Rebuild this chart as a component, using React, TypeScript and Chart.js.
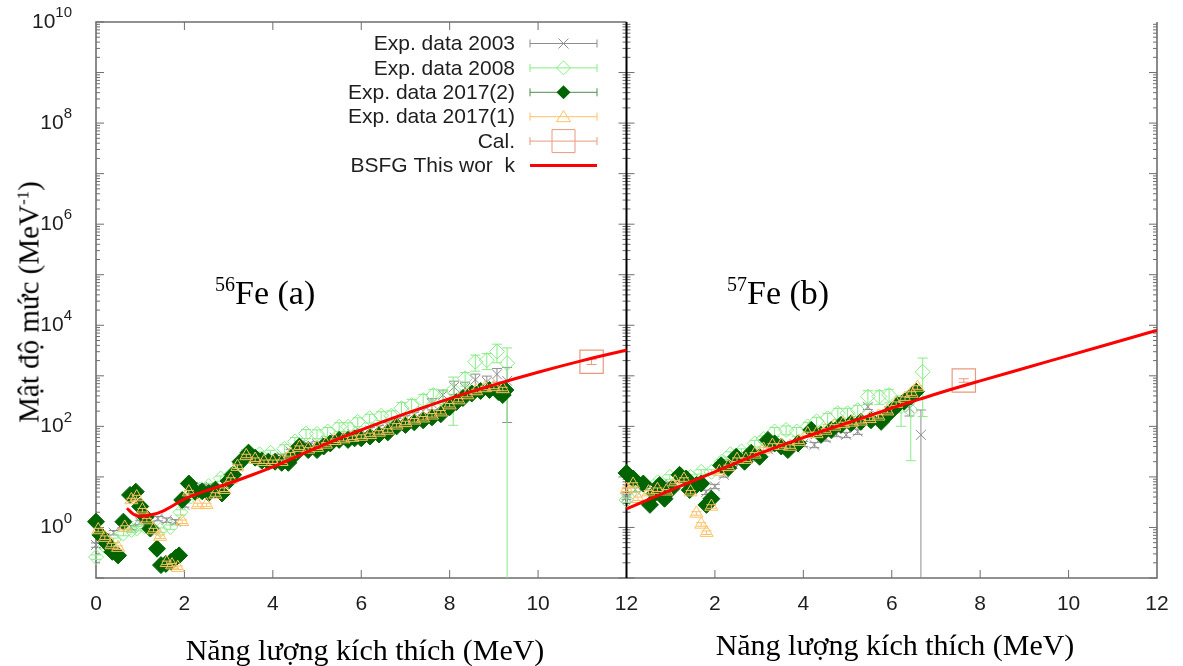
import React, { useEffect, useRef } from "react";
import { Chart, registerables } from "chart.js";

Chart.register(...registerables);

// ================= Panel (a): 56Fe =================
const fe56Exp2003E = [0.0, 0.2, 0.4, 0.6, 0.8, 1.0, 1.2, 1.4, 1.6, 1.8, 2.0, 2.2, 2.4, 2.6, 2.8, 3.0, 3.2, 3.4, 3.6, 3.8, 4.0, 4.2, 4.4, 4.6, 4.8, 5.0, 5.2, 5.4, 5.6, 5.8, 6.0, 6.2, 6.4, 6.6, 6.8, 7.0, 7.2, 7.4, 7.6, 7.85, 8.1, 8.35, 8.58, 8.84, 9.07, 9.3];
const fe56Exp2003Rho = [0.45, 0.63, 0.79, 1.1, 1.0, 1.26, 1.4, 1.5, 1.4, 1.3, 2.8, 5.6, 6.3, 6.3, 6.3, 8.9, 16, 28, 25, 24, 24, 25, 32, 42, 42, 45, 52, 60, 66, 71, 76, 83, 91, 105, 126, 141, 166, 200, 282, 417, 603, 575, 832, 759, 1070, 794];
const fe56Exp2003Err = [0.1, 0.1, 0.1, 0.1, 0.1, 0.1, 0.1, 0.1, 0.1, 0.1, 0.1, 0.1, 0.1, 0.1, 0.1, 0.1, 0.1, 0.1, 0.1, 0.1, 0.1, 0.1, 0.1, 0.1, 0.1, 0.1, 0.1, 0.1, 0.1, 0.1, 0.15, 0.15, 0.15, 0.15, 0.15, 0.15, 0.15, 0.15, 0.25, 0.25, 0.3, 0.3, 0.3, 0.3, 0.3, 0.85];

const fe56Exp2008E = [0.0, 0.2, 0.4, 0.62, 0.8, 0.92, 1.1, 1.25, 1.45, 1.68, 1.91, 2.14, 2.35, 2.55, 2.82, 3.05, 3.25, 3.45, 3.7, 3.95, 4.26, 4.5, 4.75, 5.0, 5.24, 5.5, 5.7, 5.92, 6.19, 6.45, 6.68, 6.91, 7.14, 7.4, 7.63, 7.86, 8.08, 8.35, 8.58, 8.84, 9.07, 9.3];
const fe56Exp2008Rho = [0.26, 0.42, 0.56, 0.76, 0.89, 0.95, 1.05, 1.0, 0.89, 1.02, 2.0, 4.1, 5.6, 6.6, 9.3, 11, 18, 32, 28, 30, 36, 50, 72, 71, 79, 98, 98, 123, 145, 162, 162, 229, 263, 331, 417, 389, 525, 891, 1900, 2040, 3020, 1780];
const fe56Exp2008Err = [0.1, 0.1, 0.1, 0.1, 0.1, 0.1, 0.1, 0.1, 0.1, 0.1, 0.12, 0.12, 0.12, 0.12, 0.12, 0.12, 0.12, 0.12, 0.12, 0.12, 0.2, 0.2, 0.2, 0.2, 0.2, 0.2, 0.2, 0.2, 0.2, 0.2, 0.25, 0.3, 0.3, 0.3, 0.3, 0.3, 0.8, 0.3, 0.35, 0.35, 0.4, 1.0];

const fe56Exp2017bE = [0.0, 0.1, 0.25, 0.37, 0.5, 0.62, 0.77, 0.9, 1.0, 1.12, 1.23, 1.38, 1.47, 1.58, 1.7, 1.8, 1.88, 1.95, 2.1, 2.25, 2.4, 2.55, 2.7, 2.85, 3.0, 3.1, 3.27, 3.45, 3.6, 3.75, 3.9, 4.05, 4.2, 4.35, 4.5, 4.6, 4.8, 5.0, 5.15, 5.3, 5.5, 5.7, 5.85, 6.0, 6.2, 6.4, 6.6, 6.8, 7.0, 7.2, 7.4, 7.6, 7.8, 8.0, 8.15, 8.3, 8.5, 8.7, 8.9, 9.1, 9.2, 9.26];
const fe56Exp2017bRho = [1.3, 0.71, 0.48, 0.33, 0.28, 1.3, 4.4, 5.1, 2.6, 1.6, 0.95, 0.38, 0.18, 0.19, 0.21, 0.25, 0.28, 3.5, 7.4, 5.0, 5.2, 4.8, 5.6, 4.7, 8.3, 11, 20, 30, 24, 21, 20, 20, 19, 19, 28, 40, 34, 34, 40, 46, 54, 54, 58, 58, 63, 69, 76, 100, 107, 120, 132, 151, 174, 240, 302, 363, 447, 501, 525, 479, 417, 525];
const fe56Exp2017bErr = 0.08;

const fe56Exp2017aE = [0.05, 0.2, 0.35, 0.5, 0.65, 0.8, 0.92, 1.05, 1.15, 1.3, 1.45, 1.6, 1.72, 1.85, 1.95, 2.1, 2.3, 2.5, 2.7, 2.9, 3.05, 3.2, 3.4, 3.6, 3.8, 4.0, 4.2, 4.4, 4.6, 4.8, 5.0, 5.2, 5.4, 5.6, 5.8, 6.0, 6.2, 6.4, 6.6, 6.8, 7.0, 7.2, 7.4, 7.6, 7.8, 8.0, 8.2, 8.4, 8.6, 8.8, 9.0, 9.2];
const fe56Exp2017aRho = [0.89, 0.63, 0.45, 0.4, 1.0, 3.5, 4.0, 2.2, 1.4, 0.89, 0.66, 0.2, 0.18, 0.16, 1.3, 5.0, 2.8, 2.8, 4.5, 5.6, 8.9, 16, 26, 22, 20, 20, 20, 28, 38, 35, 38, 44, 52, 56, 60, 63, 68, 76, 83, 105, 117, 132, 145, 166, 191, 263, 331, 417, 501, 575, 603, 550];
const fe56Exp2017aErr = 0.08;

const fe56CalE = [11.21];
const fe56CalRho = [1900];
const fe56CalErr = [0.12];

const fe56BsfgE = [0.7, 0.85, 1.0, 1.25, 1.5, 2.0, 2.5, 3.0, 3.5, 4.0, 5.0, 6.0, 7.0, 8.0, 9.0, 10.0, 11.0, 12.0];
const fe56BsfgRho = [2.4, 1.82, 1.66, 1.78, 2.09, 3.63, 5.37, 7.41, 10.7, 15.8, 38, 85, 178, 355, 661, 1175, 1995, 3236];

// ================= Panel (b): 57Fe =================
const fe57Exp2003E = [0.0, 0.2, 0.4, 0.6, 0.8, 1.0, 1.2, 1.4, 1.6, 1.8, 2.0, 2.2, 2.4, 2.6, 2.8, 3.0, 3.2, 3.4, 3.6, 3.8, 4.0, 4.25, 4.51, 4.75, 4.97, 5.23, 5.46, 5.7, 5.95, 6.2, 6.4, 6.66];
const fe57Exp2003Rho = [4.0, 5.6, 6.3, 5.6, 7.1, 7.1, 8.9, 7.1, 6.6, 5.0, 6.5, 11, 18, 20, 25, 28, 35, 42, 35, 38, 45, 43, 58, 71, 68, 79, 245, 158, 200, 282, 229, 68];
const fe57Exp2003Err = [0.1, 0.1, 0.1, 0.1, 0.1, 0.1, 0.1, 0.1, 0.1, 0.1, 0.1, 0.1, 0.1, 0.1, 0.1, 0.1, 0.1, 0.1, 0.1, 0.1, 0.12, 0.12, 0.12, 0.12, 0.12, 0.12, 0.12, 0.12, 0.2, 0.2, 0.3, 2.1];

const fe57Exp2008E = [0.0, 0.2, 0.45, 0.71, 0.98, 1.2, 1.45, 1.69, 1.92, 2.15, 2.35, 2.6, 2.9, 3.1, 3.35, 3.61, 3.85, 4.1, 4.3, 4.55, 4.78, 5.0, 5.23, 5.46, 5.72, 5.94, 6.21, 6.43, 6.7];
const fe57Exp2008Rho = [3.5, 5.6, 6.3, 7.9, 10, 11, 10, 12.6, 12.6, 20, 28, 32, 46, 56, 79, 85, 79, 100, 126, 145, 182, 182, 209, 389, 389, 417, 251, 209, 1200];
const fe57Exp2008Err = [0.1, 0.1, 0.1, 0.1, 0.1, 0.1, 0.1, 0.1, 0.1, 0.1, 0.12, 0.12, 0.15, 0.15, 0.2, 0.2, 0.2, 0.2, 0.2, 0.25, 0.25, 0.25, 0.25, 0.3, 0.3, 0.3, 0.6, 0.9, 0.87];

const fe57Exp2017bE = [0.0, 0.15, 0.38, 0.53, 0.64, 0.75, 0.86, 1.02, 1.2, 1.35, 1.43, 1.58, 1.69, 1.81, 1.92, 2.14, 2.3, 2.48, 2.67, 2.82, 3.01, 3.2, 3.35, 3.5, 3.65, 3.88, 4.18, 4.4, 4.63, 4.85, 5.08, 5.3, 5.53, 5.76, 5.94, 6.13, 6.28, 6.43, 6.55];
const fe57Exp2017bRho = [12, 9.3, 7.4, 2.8, 4.7, 6.9, 3.7, 5.9, 11, 9.3, 5.5, 6.9, 7.4, 2.8, 3.7, 17, 15, 25, 20, 30, 25, 54, 46, 40, 34, 46, 85, 68, 85, 107, 115, 123, 132, 123, 182, 263, 309, 389, 490];
const fe57Exp2017bErr = 0.08;

const fe57Exp2017aE = [0.0, 0.15, 0.26, 0.5, 0.7, 0.9, 1.1, 1.3, 1.45, 1.58, 1.69, 1.81, 1.92, 2.1, 2.3, 2.5, 2.7, 2.9, 3.1, 3.3, 3.5, 3.7, 3.9, 4.1, 4.3, 4.5, 4.7, 4.9, 5.1, 5.3, 5.5, 5.7, 5.9, 6.1, 6.3, 6.45, 6.58];
const fe57Exp2017aRho = [5.6, 7.1, 3.7, 5.0, 5.6, 5.2, 7.9, 8.9, 5.0, 1.9, 1.15, 0.79, 2.6, 12.6, 15.8, 22, 22, 28, 35, 42, 42, 40, 50, 71, 71, 83, 100, 112, 120, 126, 141, 158, 200, 282, 355, 447, 589];
const fe57Exp2017aErr = 0.08;

const fe57CalE = [7.63];
const fe57CalRho = [810];
const fe57CalErr = [0.08];

const fe57BsfgE = [0, 1, 2, 3, 4, 5, 6, 7, 8, 9, 10, 11, 12];
const fe57BsfgRho = [2.34, 5.5, 12.6, 28.8, 60, 117, 229, 437, 794, 1413, 2512, 4467, 7943];

// ================= Axes / labels =================
const PANEL_WIDTH_MEV = 12; // panel (b) is drawn to the right of panel (a)
const X_TICK_STEP = 2;
const Y_MIN = 0.1;
const Y_MAX = 1e10;
const Y_LABEL_EXPONENTS = [0, 2, 4, 6, 8, 10];
const LEGEND_LABELS = ["Exp. data 2003", "Exp. data 2008", "Exp. data 2017(2)", "Exp. data 2017(1)", "Cal.", "BSFG This wor  k"];

const C2003 = "#8d8d8d";
const C2008 = "#86ec86";
const C2017b = "#006400";
const C2017a = "#ffc064";
const CCAL = "#e89a7e";
const CBSFG = "#ff0000";

const TICK_FONT = '"Liberation Sans", Arial, sans-serif';

function series(xs: number[], ys: number[], err: number | number[], shift: number) {
  return xs.map((x, i) => {
    const r = Array.isArray(err) ? err[i] : err;
    return { x: x + shift, y: ys[i], yMin: ys[i] * (1 - r), yMax: ys[i] * (1 + r) };
  });
}
function curve(xs: number[], ys: number[], shift: number) {
  return xs.map((x, i) => ({ x: x + shift, y: ys[i] }));
}

const errorBarPlugin = {
  id: "errorBars",
  beforeDatasetDraw(chart: any, args: any) {
    const ds = chart.data.datasets[args.index];
    if (!ds.errorBars) return;
    const { ctx, chartArea: a } = chart;
    const ys = chart.scales.y;
    ctx.save();
    ctx.strokeStyle = ds.borderColor;
    ctx.lineWidth = 1;
    ds.data.forEach((p: any, i: number) => {
      const el = args.meta.data[i];
      if (!el) return;
      const px = el.x;
      let top = ys.getPixelForValue(p.yMax);
      let bot = p.yMin > 0 ? ys.getPixelForValue(p.yMin) : a.bottom + 100;
      const botClip = bot > a.bottom;
      const topClip = top < a.top;
      top = Math.max(top, a.top);
      bot = Math.min(bot, a.bottom);
      ctx.beginPath();
      ctx.moveTo(px, top);
      ctx.lineTo(px, bot);
      if (!topClip) { ctx.moveTo(px - 5, top); ctx.lineTo(px + 5, top); }
      if (!botClip) { ctx.moveTo(px - 5, bot); ctx.lineTo(px + 5, bot); }
      ctx.stroke();
    });
    ctx.restore();
  },
};

const framePlugin = {
  id: "frame",
  beforeDatasetsDraw(chart: any) {
    const { ctx, chartArea: a, scales } = chart;
    const xs = scales.x, ys = scales.y;
    const x0 = xs.getPixelForValue(0);
    const xm = xs.getPixelForValue(PANEL_WIDTH_MEV);
    const x1 = xs.getPixelForValue(2 * PANEL_WIDTH_MEV);
    ctx.save();
    ctx.strokeStyle = "#6e6e6e";
    ctx.lineWidth = 1.6;
    ctx.beginPath();
    ctx.moveTo(xm, a.top);
    ctx.lineTo(x0, a.top);
    ctx.lineTo(x0, a.bottom);
    ctx.lineTo(x1, a.bottom);
    ctx.lineTo(x1, a.top);
    ctx.stroke();

    // y ticks
    ctx.lineWidth = 1;
    ctx.beginPath();
    for (let e = -1; e < 10; e++) {
      for (let m = 1; m <= 9; m++) {
        const v = m * Math.pow(10, e);
        if (v < Y_MIN || v > Y_MAX) continue;
        const py = ys.getPixelForValue(v);
        const len = m === 1 ? 8 : 4;
        ctx.moveTo(x0, py); ctx.lineTo(x0 + len, py);
        ctx.moveTo(xm, py); ctx.lineTo(xm - len, py);
        ctx.moveTo(xm, py); ctx.lineTo(xm + len, py);
        ctx.moveTo(x1, py); ctx.lineTo(x1 - len, py);
      }
    }
    const pyTop = ys.getPixelForValue(Y_MAX);
    ctx.moveTo(x0, pyTop); ctx.lineTo(x0 + 8, pyTop);
    // x ticks
    for (let v = X_TICK_STEP; v < 2 * PANEL_WIDTH_MEV; v += X_TICK_STEP) {
      if (v === PANEL_WIDTH_MEV) continue;
      const px = xs.getPixelForValue(v);
      ctx.moveTo(px, a.bottom); ctx.lineTo(px, a.bottom - 8);
      if (v < PANEL_WIDTH_MEV) { ctx.moveTo(px, a.top); ctx.lineTo(px, a.top + 8); }
    }
    ctx.stroke();

    // divider between panels
    ctx.strokeStyle = "#000";
    ctx.lineWidth = 2;
    ctx.beginPath();
    ctx.moveTo(xm, a.top);
    ctx.lineTo(xm, a.bottom);
    ctx.stroke();
    ctx.restore();
  },
};

function drawMarker(ctx: CanvasRenderingContext2D, kind: string, x: number, y: number, color: string) {
  ctx.save();
  ctx.strokeStyle = color;
  ctx.fillStyle = color;
  ctx.lineWidth = 1;
  ctx.beginPath();
  if (kind === "cross") {
    ctx.moveTo(x - 5, y - 5); ctx.lineTo(x + 5, y + 5);
    ctx.moveTo(x - 5, y + 5); ctx.lineTo(x + 5, y - 5);
    ctx.stroke();
  } else if (kind === "diamond" || kind === "fdiamond") {
    ctx.moveTo(x, y - 7); ctx.lineTo(x + 7, y); ctx.lineTo(x, y + 7); ctx.lineTo(x - 7, y); ctx.closePath();
    if (kind === "fdiamond") ctx.fill(); else ctx.stroke();
  } else if (kind === "triangle") {
    ctx.moveTo(x, y - 6); ctx.lineTo(x + 7, y + 5); ctx.lineTo(x - 7, y + 5); ctx.closePath();
    ctx.stroke();
  } else if (kind === "square") {
    ctx.rect(x - 11.5, y - 11.5, 23, 23);
    ctx.stroke();
  }
  ctx.restore();
}

const legendPlugin = {
  id: "customLegend",
  afterDraw(chart: any) {
    const { ctx, chartArea: a } = chart;
    const textRight = a.left + 419;
    const lineL = a.left + 434;
    const lineR = a.left + 501;
    const colors = [C2003, C2008, C2017b, C2017a, CCAL, CBSFG];
    const kinds = ["cross", "diamond", "fdiamond", "triangle", "square", "line"];
    ctx.save();
    ctx.font = `21px ${TICK_FONT}`;
    ctx.textAlign = "right";
    ctx.textBaseline = "middle";
    LEGEND_LABELS.forEach((lab, i) => {
      const y = a.top + 21.5 + i * 24.4;
      ctx.fillStyle = "#1e1e1e";
      ctx.fillText(lab, textRight, y + 1);
      const c = colors[i];
      if (kinds[i] === "line") {
        ctx.strokeStyle = c;
        ctx.lineWidth = 3;
        ctx.beginPath(); ctx.moveTo(lineL, y); ctx.lineTo(lineR, y); ctx.stroke();
      } else {
        ctx.strokeStyle = kinds[i] === "fdiamond" ? "#4f8a4f" : c;
        ctx.lineWidth = 1;
        ctx.beginPath();
        ctx.moveTo(lineL, y); ctx.lineTo(lineR, y);
        ctx.moveTo(lineL, y - 4); ctx.lineTo(lineL, y + 4);
        ctx.moveTo(lineR, y - 4); ctx.lineTo(lineR, y + 4);
        ctx.stroke();
        drawMarker(ctx, kinds[i], (lineL + lineR) / 2, y, c);
      }
    });
    ctx.restore();
  },
};

const yLabelPlugin = {
  id: "yLabels",
  afterDraw(chart: any) {
    const { ctx, chartArea: a, scales } = chart;
    const ys = scales.y;
    const right = a.left - 24;
    ctx.save();
    ctx.fillStyle = "#1e1e1e";
    ctx.textBaseline = "middle";
    Y_LABEL_EXPONENTS.forEach((e) => {
      const py = ys.getPixelForValue(Math.pow(10, e));
      const exp = String(e);
      ctx.font = `15px ${TICK_FONT}`;
      const ew = ctx.measureText(exp).width;
      ctx.textAlign = "left";
      ctx.fillText(exp, right - ew, py - 9);
      ctx.font = `21px ${TICK_FONT}`;
      ctx.textAlign = "right";
      ctx.fillText("10", right - ew, py);
    });
    ctx.restore();
  },
};

function pointSet(label: string, data: any[], style: any, order: number) {
  return { label, data, order, clip: false, errorBars: true, showLine: false, ...style };
}

export default function App() {
  const ref = useRef<HTMLCanvasElement>(null);
  useEffect(() => {
    const s2003 = { pointStyle: "crossRot", pointRadius: 7, borderColor: C2003, backgroundColor: "rgba(0,0,0,0)", borderWidth: 1 };
    const s2008 = { pointStyle: "rectRot", pointRadius: 7.5, borderColor: C2008, backgroundColor: "rgba(0,0,0,0)", borderWidth: 1 };
    const s2017b = { pointStyle: "rectRot", pointRadius: 8.5, borderColor: C2017b, backgroundColor: C2017b, borderWidth: 1 };
    const s2017a = { pointStyle: "triangle", pointRadius: 7.5, borderColor: C2017a, backgroundColor: "rgba(0,0,0,0)", borderWidth: 1 };
    const sCal = { pointStyle: "rect", pointRadius: 16.5, borderColor: CCAL, backgroundColor: "rgba(0,0,0,0)", borderWidth: 1.2 };
    const sBsfg = { showLine: true, pointRadius: 0, borderColor: CBSFG, borderWidth: 3, cubicInterpolationMode: "monotone", fill: false };

    const datasets: any[] = [];
    [0, PANEL_WIDTH_MEV].forEach((shift, k) => {
      const P = k === 0
        ? { a3: [fe56Exp2003E, fe56Exp2003Rho, fe56Exp2003Err], a8: [fe56Exp2008E, fe56Exp2008Rho, fe56Exp2008Err], b17: [fe56Exp2017bE, fe56Exp2017bRho, fe56Exp2017bErr], a17: [fe56Exp2017aE, fe56Exp2017aRho, fe56Exp2017aErr], cal: [fe56CalE, fe56CalRho, fe56CalErr], bs: [fe56BsfgE, fe56BsfgRho] }
        : { a3: [fe57Exp2003E, fe57Exp2003Rho, fe57Exp2003Err], a8: [fe57Exp2008E, fe57Exp2008Rho, fe57Exp2008Err], b17: [fe57Exp2017bE, fe57Exp2017bRho, fe57Exp2017bErr], a17: [fe57Exp2017aE, fe57Exp2017aRho, fe57Exp2017aErr], cal: [fe57CalE, fe57CalRho, fe57CalErr], bs: [fe57BsfgE, fe57BsfgRho] };
      datasets.push(pointSet(LEGEND_LABELS[0], series(P.a3[0] as number[], P.a3[1] as number[], P.a3[2] as any, shift), s2003, 5));
      datasets.push(pointSet(LEGEND_LABELS[1], series(P.a8[0] as number[], P.a8[1] as number[], P.a8[2] as any, shift), s2008, 4));
      datasets.push(pointSet(LEGEND_LABELS[2], series(P.b17[0] as number[], P.b17[1] as number[], P.b17[2] as any, shift), s2017b, 3));
      datasets.push(pointSet(LEGEND_LABELS[3], series(P.a17[0] as number[], P.a17[1] as number[], P.a17[2] as any, shift), s2017a, 2));
      datasets.push(pointSet(LEGEND_LABELS[4], series(P.cal[0] as number[], P.cal[1] as number[], P.cal[2] as any, shift), sCal, 1));
      datasets.push({ label: LEGEND_LABELS[5], data: curve(P.bs[0] as number[], P.bs[1] as number[], shift), order: 0, ...sBsfg });
    });

    const chart = new Chart(ref.current as HTMLCanvasElement, {
      type: "scatter",
      data: { datasets },
      options: {
        animation: false,
        responsive: false,
        maintainAspectRatio: false,
        events: [],
        layout: { padding: { left: 0, right: 26, top: 22, bottom: 0 } },
        plugins: { legend: { display: false }, tooltip: { enabled: false } },
        scales: {
          x: {
            type: "linear",
            min: 0,
            max: 2 * PANEL_WIDTH_MEV,
            afterFit: (s: any) => { s.height = 88; },
            grid: { display: false, drawTicks: false },
            border: { display: false },
            ticks: {
              stepSize: X_TICK_STEP,
              autoSkip: false,
              maxRotation: 0,
              padding: 14,
              color: "#1e1e1e",
              font: { family: TICK_FONT, size: 21 },
              callback: (v: any) => (v > PANEL_WIDTH_MEV ? String(v - PANEL_WIDTH_MEV) : String(v)),
            },
          },
          y: {
            type: "logarithmic",
            min: Y_MIN,
            max: Y_MAX,
            afterFit: (s: any) => { s.width = 96; },
            grid: { display: false, drawTicks: false },
            border: { display: false },
            ticks: { display: false },
          },
        },
      } as any,
      plugins: [framePlugin, errorBarPlugin, legendPlugin, yLabelPlugin],
    });
    return () => chart.destroy();
  }, []);

  const serif = '"Liberation Serif", "Times New Roman", serif';
  return (
    <div style={{ position: "fixed", left: 0, top: 0, width: 1183, height: 666, background: "#fff", overflow: "hidden" }}>
      <canvas ref={ref} width={1183} height={666} style={{ position: "absolute", left: 0, top: 0, display: "block" }} />
      <div style={{ position: "absolute", left: 29, top: 302, transform: "translate(-50%, -50%) rotate(-90deg)", fontFamily: serif, fontSize: 29, whiteSpace: "nowrap", color: "#000", lineHeight: 1 }}>
        Mật độ mức (MeV<sup style={{ fontSize: 17, verticalAlign: "10px", lineHeight: 0 }}>-1</sup>)
      </div>
      <div style={{ position: "absolute", left: 365, top: 650, transform: "translate(-50%, -50%)", fontFamily: serif, fontSize: 30, whiteSpace: "nowrap", color: "#000", lineHeight: 1 }}>
        Năng lượng kích thích (MeV)
      </div>
      <div style={{ position: "absolute", left: 895, top: 645, transform: "translate(-50%, -50%)", fontFamily: serif, fontSize: 30, whiteSpace: "nowrap", color: "#000", lineHeight: 1 }}>
        Năng lượng kích thích (MeV)
      </div>
      <div style={{ position: "absolute", left: 215, top: 276, fontFamily: serif, fontSize: 34, whiteSpace: "nowrap", color: "#000", lineHeight: 1 }}>
        <sup style={{ fontSize: 20, verticalAlign: "13px", lineHeight: 0 }}>56</sup>Fe (a)
      </div>
      <div style={{ position: "absolute", left: 727, top: 276, fontFamily: serif, fontSize: 34, whiteSpace: "nowrap", color: "#000", lineHeight: 1 }}>
        <sup style={{ fontSize: 20, verticalAlign: "13px", lineHeight: 0 }}>57</sup>Fe (b)
      </div>
    </div>
  );
}
